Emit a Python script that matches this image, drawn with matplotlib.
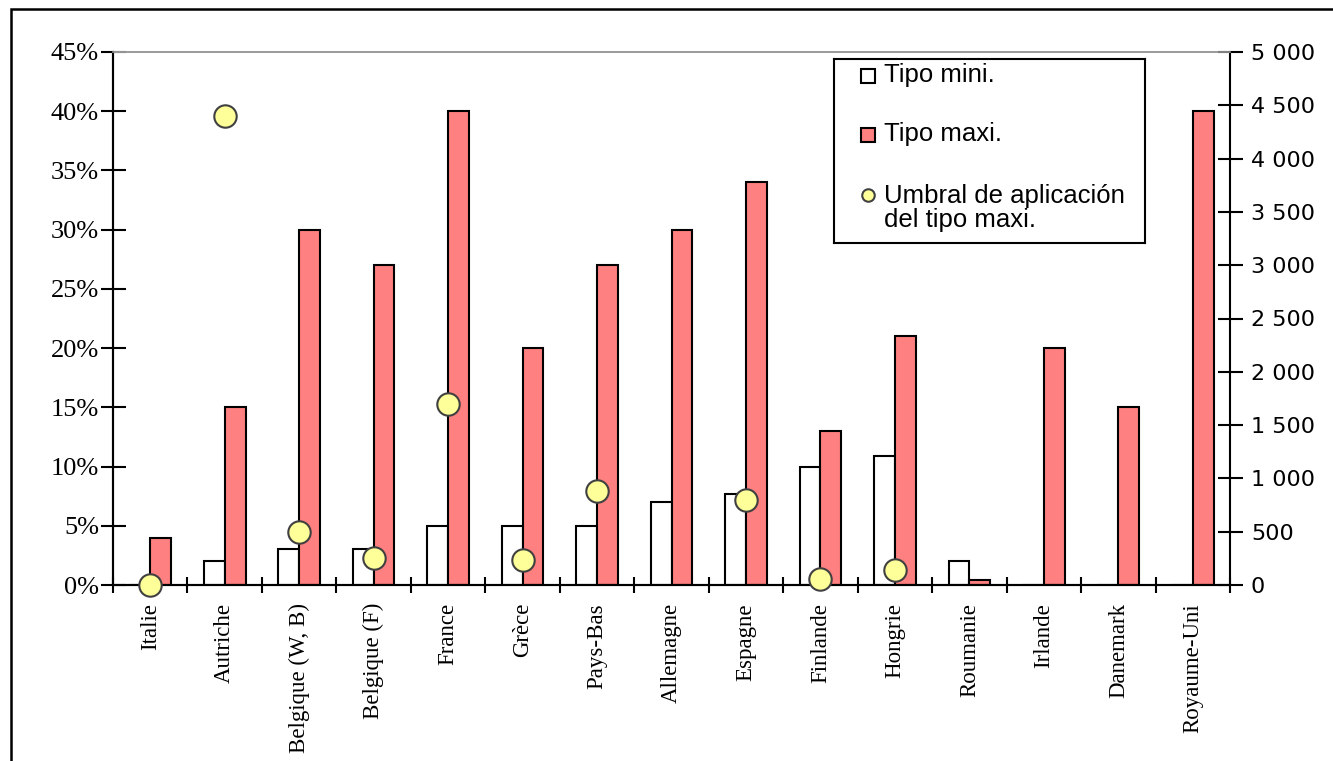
import numpy as np
import matplotlib
matplotlib.use('Agg')
import matplotlib.pyplot as plt
from matplotlib.patches import Rectangle
from matplotlib.ticker import FuncFormatter, FixedLocator

pays = ['Italie', 'Autriche', 'Belgique (W, B)', 'Belgique (F)', 'France', 'Grèce',
        'Pays-Bas', 'Allemagne', 'Espagne', 'Finlande', 'Hongrie', 'Roumanie',
        'Irlande', 'Danemark', 'Royaume-Uni']
tipo_mini = [0, 2, 3, 3, 5, 5, 5, 7, 7.7, 10, 10.9, 2, 0, 0, 0]          # %
tipo_maxi = [4, 15, 30, 27, 40, 20, 27, 30, 34, 13, 21, 0.4, 20, 15, 40]  # %
umbral = [0, 4400, 500, 250, 1700, 230, 880, np.nan, 800, 60, 140,
          np.nan, np.nan, np.nan, np.nan]

ROJO = '#FF8080'
AMARILLO = '#FFFF99'


def create_plt() -> None:
  fig = plt.figure(figsize=(13.33, 7.61), dpi=100)
  ax = fig.add_axes([113 / 1333, 1 - 585 / 761, 1117 / 1333, 533 / 761])
  ax2 = ax.twinx()

  x = np.arange(len(pays))
  w = 0.28
  ax.bar(x - w / 2, tipo_mini, width=w, color='white', edgecolor='black', linewidth=1.5)
  ax.bar(x + w / 2, tipo_maxi, width=w, color=ROJO, edgecolor='black', linewidth=1.5)
  ax2.scatter(x, umbral, s=260, color=AMARILLO, edgecolors='#404040', linewidths=1.5,
              zorder=5, clip_on=False)

  # eje izquierdo en %
  ax.set_xlim(-0.5, len(pays) - 0.5)
  ax.set_ylim(0, 45)
  ax.set_yticks(np.arange(0, 46, 5))
  ax.yaxis.set_major_formatter(FuncFormatter(lambda v, p: f'{v:.0f}%'))
  ax.tick_params(axis='y', direction='inout', length=18, width=1.5, pad=1,
                 labelsize=19)
  for lab in ax.get_yticklabels():
    lab.set_family('Liberation Serif')

  # categorias: ticks en los limites, etiquetas en el centro
  ax.xaxis.set_major_locator(FixedLocator(np.arange(-0.5, len(pays), 1)))
  ax.xaxis.set_minor_locator(FixedLocator(x))
  ax.set_xticklabels([], minor=False)
  ax.set_xticklabels(pays, minor=True, rotation=90, family='Liberation Serif', fontsize=16.5)
  ax.tick_params(axis='x', which='major', direction='inout', length=12, width=1.5)
  ax.tick_params(axis='x', which='minor', length=0, pad=13)

  # eje derecho en euros
  ax2.set_ylim(0, 5000)
  ax2.set_yticks(np.arange(0, 5001, 500))
  ax2.yaxis.set_major_formatter(FuncFormatter(lambda v, p: f'{v:,.0f}'.replace(',', ' ')))
  ax2.tick_params(axis='y', direction='inout', length=18, width=1.5, pad=6,
                  labelsize=16)

  for a in (ax, ax2):
    a.spines['left'].set_linewidth(1.5)
    a.spines['right'].set_linewidth(1.5)
    a.spines['bottom'].set_linewidth(1.5)
    a.spines['top'].set_color('#999999')
    a.spines['top'].set_linewidth(1.2)
  ax.spines['right'].set_visible(False)

  # leyenda dibujada a mano
  leg = fig.add_axes([834 / 1333, 1 - 243 / 761, 311 / 1333, 184 / 761])
  leg.set_xlim(0, 1)
  leg.set_ylim(0, 1)
  leg.set_xticks([])
  leg.set_yticks([])
  for s in leg.spines.values():
    s.set_linewidth(1.5)
  leg.plot(0.11, 0.91, 's', ms=10, mfc='white', mec='black', mew=1.5)
  leg.text(0.16, 0.915, 'Tipo mini.', va='center', family='Liberation Sans', fontsize=18.5)
  leg.plot(0.11, 0.585, 's', ms=10, mfc=ROJO, mec='black', mew=1.5)
  leg.text(0.16, 0.59, 'Tipo maxi.', va='center', family='Liberation Sans', fontsize=18.5)
  leg.plot(0.11, 0.26, 'o', ms=9, mfc=AMARILLO, mec='#404040', mew=1.5)
  leg.text(0.16, 0.19, 'Umbral de aplicación\ndel tipo maxi.', va='center',
           family='Liberation Sans', fontsize=18.5, linespacing=1.0)

  # marco exterior
  fig.add_artist(Rectangle((11 / 1333, -0.2), 1.5, 1.2 - 9 / 761, fill=False,
                           edgecolor='black', linewidth=1.8, transform=fig.transFigure))

  plt.savefig('out.png', dpi=100)


create_plt()
